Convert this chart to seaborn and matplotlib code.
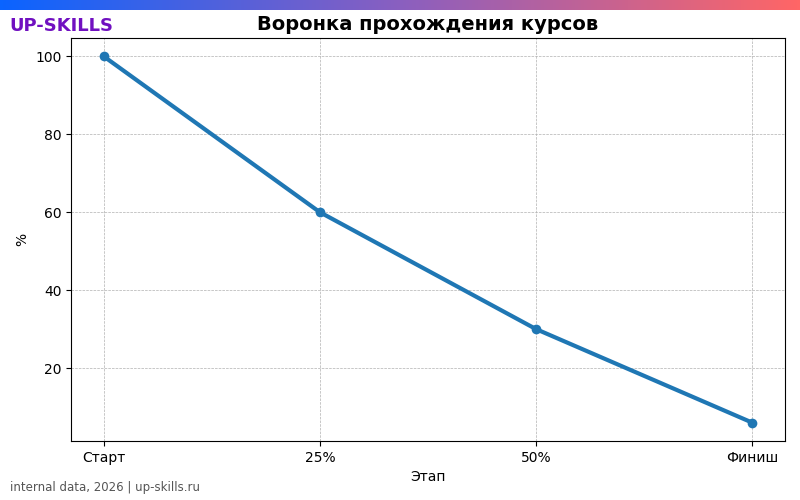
import numpy as np
import pandas as pd
import matplotlib
matplotlib.use("Agg")
import matplotlib.pyplot as plt
import seaborn as sns
from matplotlib.colors import LinearSegmentedColormap

stages = ["Старт", "25%", "50%", "Финиш"]
percent = [100, 60, 30, 6]

df = pd.DataFrame({"Этап": stages, "%": percent})

sns.set_style("ticks")
plt.rcParams["font.family"] = ["DejaVu Sans"]
plt.rcParams["text.color"] = "black"
plt.rcParams["axes.labelcolor"] = "black"
plt.rcParams["xtick.color"] = "black"
plt.rcParams["ytick.color"] = "black"

fig = plt.figure(figsize=(8, 5), dpi=100)
ax = fig.add_axes([0.089, 0.118, 0.892, 0.806])

sns.lineplot(data=df, x="Этап", y="%", ax=ax, color="#1f77b4",
             linewidth=3, marker="o", markersize=7, markeredgewidth=0, sort=False)
ax.grid(True, linestyle="--", linewidth=0.5, color="#b0b0b0")
ax.set_title("Воронка прохождения курсов", fontsize=14, fontweight="bold", color="black")
ax.set_xlabel("Этап", fontsize=10)
ax.set_ylabel("%", fontsize=10)
ax.set_yticks([20, 40, 60, 80, 100])
for s in ax.spines.values():
    s.set_visible(True)
    s.set_color("black")

# gradient stripe on top
bar = fig.add_axes([0, 0.98, 1, 0.02])
cmap = LinearSegmentedColormap.from_list("brand", ["#0a64ff", "#8a5fc0", "#ff6666"])
bar.imshow(np.linspace(0, 1, 256).reshape(1, -1), aspect="auto", cmap=cmap)
bar.axis("off")

fig.text(0.012, 0.948, "UP-SKILLS", fontsize=13, fontweight="bold", color="#7010c0",
         va="center")
fig.text(0.012, 0.024, "internal data, 2026 | up-skills.ru", fontsize=8.5,
         color="#555555", va="center")

fig.savefig("out.png", dpi=100)
